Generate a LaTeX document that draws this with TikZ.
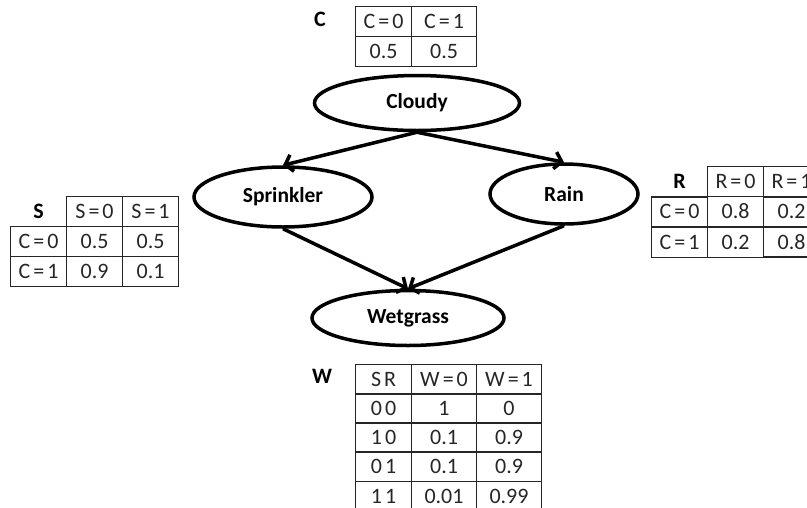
\documentclass[tikz,border=0pt]{standalone}
\usepackage{fontspec}
\setmainfont{Carlito}[WordSpace=0.6]
\usetikzlibrary{shapes.geometric,matrix,arrows.meta}
\begin{document}
\begin{tikzpicture}[x=1pt,y=-1pt,
    var/.style={draw,ellipse,line width=3.5pt,inner sep=0pt,font=\fontsize{21.5}{24}\selectfont\bfseries},
    arr/.style={line width=3.5pt,-{Straight Barb[length=7pt,width=17pt]}},
    cpt/.style={matrix of nodes,column sep=-1.5pt,row sep=-1.5pt,
        nodes={draw=black!85,line width=1.5pt,minimum height=30pt,minimum width=56pt,
               inner sep=0pt,text=black!85,font=\fontsize{22}{24}\selectfont}},
    lbl/.style={draw=none,text=black,font=\fontsize{22}{24}\selectfont\bfseries}]
\useasboundingbox (0,0) rectangle (807,507);

% variables
\node[var,minimum width=205pt,minimum height=55pt] (c) at (417,103) {Cloudy};
\node[var,minimum width=178pt,minimum height=60pt] (s) at (283,197) {Sprinkler};
\node[var,minimum width=148pt,minimum height=60pt] (r) at (564,194) {Rain};
\node[var,minimum width=192pt,minimum height=55pt] (w) at (408,318) {Wetgrass};

\draw[arr] (c.south) -- (s.north);
\draw[arr] (c.south) -- (r.north);
\draw[arr] (s.south) -- (w.north);
\draw[arr] (r.south) -- (w.north);

% tables
\node[lbl] (cl) at (320,19) {C};
\matrix (ct) [cpt,anchor=north west,column 2/.style={nodes={minimum width=65pt}}] at (351.25,2.25) {
    C = 0 & C = 1 \\
    0.5 & 0.5 \\
};

\matrix (st) [cpt,anchor=north west] at (6.25,192.25) {
    |[lbl]| S & S = 0 & S = 1 \\
    C = 0 & 0.5 & 0.5 \\
    C = 1 & 0.9 & 0.1 \\
};

\matrix (rt) [cpt,anchor=north west] at (647.25,162.25) {
    |[lbl]| R & R = 0 & R = 1 \\
    C = 0 & 0.8 & 0.2 \\
    C = 1 & 0.2 & 0.8 \\
};

\node[lbl] (wl) at (322,376) {W};
\matrix (wt) [cpt,anchor=north west,nodes={minimum height=29.2pt},
    column 2/.style={nodes={minimum width=65pt}},column 3/.style={nodes={minimum width=65pt}}] at (351.25,360.25) {
    S R & W = 0 & W = 1 \\
    0 0 & 1 & 0 \\
    1 0 & 0.1 & 0.9 \\
    0 1 & 0.1 & 0.9 \\
    1 1 & 0.01 & 0.99 \\
};
\end{tikzpicture}
\end{document}
